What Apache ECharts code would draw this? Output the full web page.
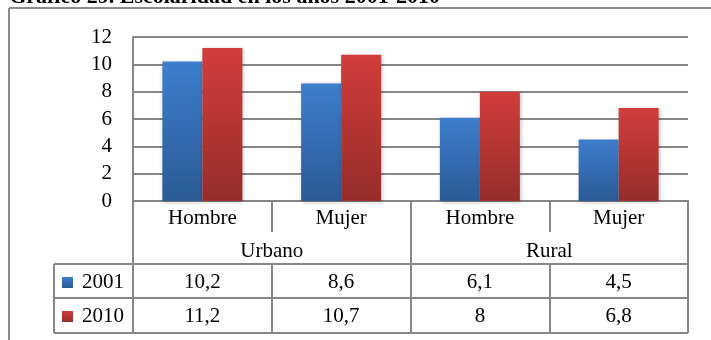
<!DOCTYPE html>
<html><head><meta charset="utf-8">
<script src="https://cdn.jsdelivr.net/npm/echarts@6/dist/echarts.min.js"></script>
<style>html,body{margin:0;padding:0;background:#fff}#c{width:711px;height:340px}</style>
</head><body><div id="c"></div>
<script>
const titleText = 'Gráfico 29. Escolaridad en los años 2001-2010';
const categories = ['Hombre', 'Mujer', 'Hombre', 'Mujer'];
const groups = ['Urbano', 'Rural'];
const seriesNames = ['2001', '2010'];
const values2001 = [10.2, 8.6, 6.1, 4.5];
const values2010 = [11.2, 10.7, 8, 6.8];
const yMin = 0, yMax = 12, yStep = 2;

const FONT = 'Liberation Serif';
const GRAY = '#878787';
const fmt = v => String(v).replace('.', ',');

const chart = echarts.init(document.getElementById('c'), null, {renderer: 'canvas'});

const blue = new echarts.graphic.LinearGradient(0, 0, 0, 1, [
  {offset: 0, color: '#3d7ecd'}, {offset: 1, color: '#2b5a95'}]);
const red = new echarts.graphic.LinearGradient(0, 0, 0, 1, [
  {offset: 0, color: '#d13d3a'}, {offset: 1, color: '#962d2b'}]);

const G = {left: 133, right: 688, top: 37, bottom: 201};
const rowY = [264, 298, 333];
const tableLeft = 54;

const lbl = {fontFamily: FONT, fontSize: 21, color: '#000'};

const option = {
  animation: false,
  backgroundColor: '#fff',
  grid: {left: G.left, right: 711 - G.right, top: G.top, bottom: 340 - G.bottom, containLabel: false},
  legend: {
    orient: 'vertical', left: 57, top: 267, itemWidth: 11, itemHeight: 11, itemGap: 13,
    icon: 'rect', textStyle: Object.assign({}, lbl, {padding: [0, 0, 0, 4]}),
    data: seriesNames
  },
  xAxis: [
    {type: 'category', data: categories, position: 'bottom',
     axisLine: {show: true, lineStyle: {color: GRAY, width: 2}},
     axisTick: {show: true, length: 31, interval: 0, lineStyle: {color: GRAY, width: 2}},
     axisLabel: Object.assign({interval: 0, margin: 7}, lbl),
     splitLine: {show: false}},
    {type: 'category', data: groups, position: 'bottom',
     axisLine: {show: false},
     axisTick: {show: true, length: 132, interval: 0, lineStyle: {color: GRAY, width: 2}},
     axisLabel: Object.assign({interval: 0, margin: 40}, lbl),
     splitLine: {show: false}},
    {type: 'category', data: categories, position: 'bottom', offset: rowY[0] - G.bottom,
     axisLine: {show: false},
     axisTick: {show: true, length: rowY[2] - rowY[0], interval: 0, lineStyle: {color: GRAY, width: 2}},
     axisLabel: Object.assign({interval: 0, margin: 8, formatter: (v, i) => fmt(values2001[i])}, lbl),
     splitLine: {show: false}},
    {type: 'category', data: categories, position: 'bottom', offset: rowY[1] - G.bottom,
     axisLine: {show: false}, axisTick: {show: false},
     axisLabel: Object.assign({interval: 0, margin: 8, formatter: (v, i) => fmt(values2010[i])}, lbl),
     splitLine: {show: false}}
  ],
  yAxis: {
    type: 'value', min: yMin, max: yMax, interval: yStep,
    axisLine: {show: true, lineStyle: {color: GRAY, width: 2}},
    axisTick: {show: false},
    axisLabel: Object.assign({margin: 21}, lbl),
    splitLine: {show: true, lineStyle: {color: GRAY, width: 2}}
  },
  series: [
    {name: seriesNames[0], type: 'bar', data: values2001, barWidth: 40, barGap: '0%',
     itemStyle: {color: blue, shadowBlur: 4, shadowColor: 'rgba(0,0,0,0.25)', shadowOffsetX: 1, shadowOffsetY: 1}},
    {name: seriesNames[1], type: 'bar', data: values2010, barWidth: 40, barGap: '0%',
     itemStyle: {color: red, shadowBlur: 4, shadowColor: 'rgba(0,0,0,0.25)', shadowOffsetX: 1, shadowOffsetY: 1}}
  ],
  graphic: [
    {type: 'text', x: 440, y: -3, silent: true,
     style: {text: titleText, fontFamily: FONT, fontWeight: 'bold', fontSize: 22, fill: '#000', align: 'right', verticalAlign: 'middle'}},
    {type: 'line', shape: {x1: 9, y1: 8, x2: 711, y2: 8}, style: {stroke: '#8c8c8c', lineWidth: 2}},
    {type: 'line', shape: {x1: 9, y1: 8, x2: 9, y2: 340}, style: {stroke: '#8c8c8c', lineWidth: 2}},
    {type: 'line', shape: {x1: tableLeft, y1: rowY[0], x2: G.right, y2: rowY[0]}, style: {stroke: GRAY, lineWidth: 2}},
    {type: 'line', shape: {x1: tableLeft, y1: rowY[1], x2: G.right, y2: rowY[1]}, style: {stroke: GRAY, lineWidth: 2}},
    {type: 'line', shape: {x1: tableLeft, y1: rowY[2], x2: G.right, y2: rowY[2]}, style: {stroke: GRAY, lineWidth: 2}},
    {type: 'line', shape: {x1: tableLeft, y1: rowY[0], x2: tableLeft, y2: rowY[2]}, style: {stroke: GRAY, lineWidth: 2}}
  ]
};
chart.setOption(option);
</script></body></html>
